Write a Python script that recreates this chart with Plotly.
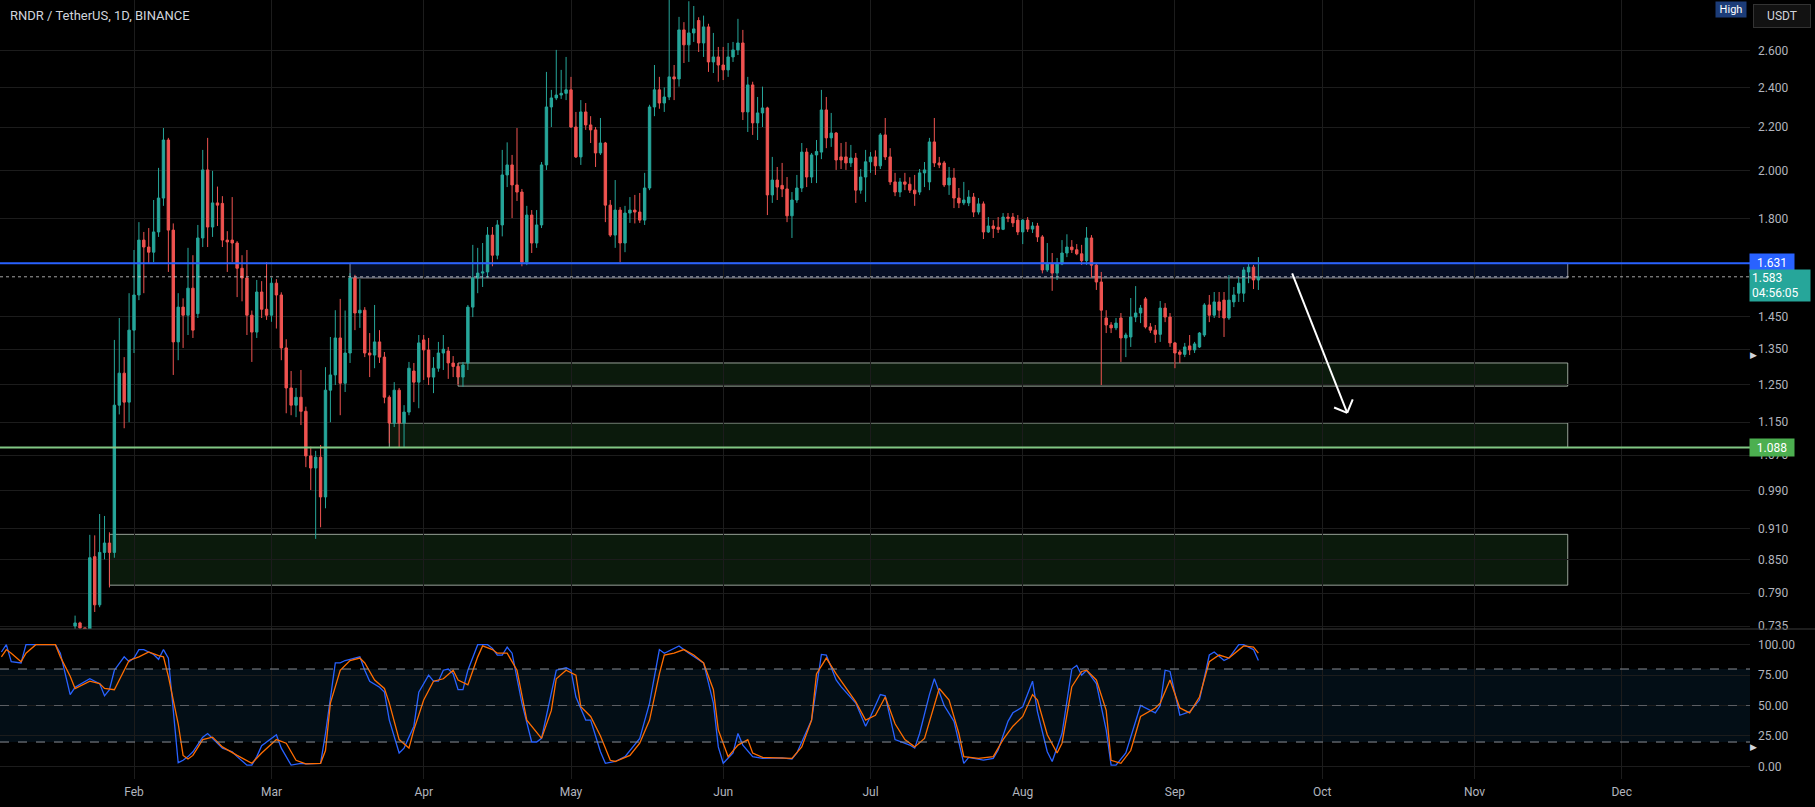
import math
import pandas as pd
import plotly.graph_objects as go

W, H = 1815, 807

# ---------------- data ----------------
first_candle = "2023-01-20"
opens = [
    0.735, 0.740, 0.732, 0.715, 0.856, 0.770, 0.864, 0.882, 0.864, 1.194,
    1.281, 1.202, 1.408, 1.521, 1.716, 1.690, 1.671, 1.747, 1.882, 2.138,
    1.754, 1.372, 1.481, 1.455, 1.544, 1.460, 1.724, 2.002, 1.766, 1.862,
    1.860, 1.716, 1.716, 1.705, 1.613, 1.579, 1.455, 1.402, 1.531, 1.474,
    1.455, 1.561, 1.521, 1.354, 1.240, 1.194, 1.215, 1.178, 1.068, 1.040,
    1.065, 0.976, 1.234, 1.276, 1.384, 1.253, 1.339, 1.579, 1.462, 1.471,
    1.339, 1.333, 1.372, 1.327, 1.215, 1.148, 1.234, 1.148, 1.176, 1.287,
    1.256, 1.378, 1.348, 1.270, 1.295, 1.339, 1.345, 1.310, 1.300, 1.270,
    1.310, 1.481, 1.579, 1.596, 1.600, 1.735, 1.660, 1.774, 1.980, 2.024,
    1.937, 1.907, 1.635, 1.813, 1.705, 1.774, 2.024, 2.299, 2.345, 2.360,
    2.369, 2.387, 2.200, 2.060, 2.274, 2.210, 2.186, 2.078, 2.124, 1.853,
    1.735, 1.833, 1.705, 1.821, 1.833, 1.825, 1.793, 1.924, 2.299, 2.387,
    2.319, 2.350, 2.456, 2.445, 2.723, 2.635, 2.705, 2.780, 2.646, 2.741,
    2.538, 2.566, 2.521, 2.494, 2.566, 2.606, 2.646, 2.274, 2.413, 2.220,
    2.269, 2.294, 1.895, 1.958, 1.935, 1.920, 1.810, 1.874, 1.924, 2.082,
    1.971, 2.069, 2.082, 2.284, 2.148, 2.171, 2.060, 2.060, 2.033, 2.055,
    1.915, 1.971, 2.038, 2.060, 2.020, 2.162, 2.060, 1.950, 1.907, 1.950,
    1.940, 1.915, 1.907, 1.989, 1.950, 2.129, 2.033, 2.033, 1.937, 1.967,
    1.882, 1.862, 1.862, 1.886, 1.825, 1.858, 1.747, 1.770, 1.765, 1.757,
    1.805, 1.805, 1.793, 1.747, 1.793, 1.758, 1.770, 1.728, 1.607, 1.628,
    1.596, 1.628, 1.668, 1.690, 1.680, 1.665, 1.640, 1.724, 1.624, 1.565,
    1.446, 1.424, 1.415, 1.446, 1.384, 1.387, 1.449, 1.462, 1.508, 1.418,
    1.408, 1.395, 1.478, 1.449, 1.369, 1.342, 1.335, 1.360, 1.348, 1.357,
    1.393, 1.488, 1.455, 1.498, 1.504, 1.446, 1.498, 1.527, 1.527, 1.600,
    1.617, 1.572,
]
highs = [
    0.752, 0.742, 0.732, 0.898, 0.897, 0.940, 0.936, 0.903, 1.378, 1.446,
    1.327, 1.527, 1.679, 1.785, 1.747, 1.762, 1.874, 2.011, 2.195, 2.148,
    1.780, 1.527, 1.510, 1.687, 1.660, 1.774, 2.092, 2.148, 1.998, 1.930,
    1.890, 1.750, 1.886, 1.712, 1.660, 1.679, 1.470, 1.572, 1.568, 1.635,
    1.580, 1.575, 1.530, 1.380, 1.287, 1.240, 1.290, 1.190, 1.090, 1.080,
    1.094, 1.298, 1.387, 1.471, 1.508, 1.470, 1.596, 1.590, 1.575, 1.481,
    1.399, 1.488, 1.408, 1.342, 1.220, 1.256, 1.240, 1.194, 1.313, 1.310,
    1.393, 1.393, 1.384, 1.327, 1.372, 1.393, 1.357, 1.330, 1.310, 1.313,
    1.488, 1.698, 1.687, 1.705, 1.766, 1.766, 1.793, 2.092, 2.127, 2.069,
    2.195, 1.920, 1.850, 1.833, 1.833, 2.037, 2.483, 2.387, 2.606, 2.494,
    2.566, 2.456, 2.274, 2.334, 2.319, 2.253, 2.200, 2.244, 2.129, 1.874,
    1.958, 1.845, 1.850, 1.886, 1.895, 1.903, 1.989, 2.310, 2.521, 2.456,
    2.400, 2.950, 2.521, 2.802, 2.770, 2.900, 2.870, 2.800, 2.810, 2.760,
    2.705, 2.623, 2.623, 2.646, 2.652, 2.790, 2.723, 2.456, 2.430, 2.350,
    2.404, 2.300, 2.060, 2.015, 2.033, 1.971, 1.907, 1.980, 2.124, 2.100,
    2.078, 2.138, 2.387, 2.350, 2.269, 2.176, 2.124, 2.129, 2.115, 2.078,
    2.006, 2.092, 2.082, 2.090, 2.171, 2.244, 2.100, 1.989, 1.967, 1.989,
    1.970, 1.980, 2.006, 2.037, 2.148, 2.244, 2.060, 2.042, 2.015, 2.010,
    1.924, 1.950, 1.915, 1.903, 1.882, 1.868, 1.805, 1.793, 1.805, 1.821,
    1.821, 1.821, 1.813, 1.797, 1.805, 1.785, 1.782, 1.735, 1.705, 1.668,
    1.650, 1.716, 1.738, 1.716, 1.701, 1.698, 1.766, 1.735, 1.631, 1.600,
    1.471, 1.433, 1.446, 1.462, 1.400, 1.511, 1.551, 1.488, 1.514, 1.430,
    1.424, 1.501, 1.494, 1.462, 1.372, 1.348, 1.369, 1.393, 1.372, 1.402,
    1.494, 1.521, 1.531, 1.531, 1.531, 1.589, 1.548, 1.582, 1.617, 1.631,
    1.625, 1.653,
]
lows = [
    0.725, 0.720, 0.700, 0.705, 0.758, 0.766, 0.851, 0.800, 0.854, 1.170,
    1.135, 1.150, 1.339, 1.504, 1.527, 1.631, 1.635, 1.728, 1.850, 1.600,
    1.276, 1.318, 1.354, 1.393, 1.384, 1.446, 1.690, 1.690, 1.728, 1.770,
    1.690, 1.600, 1.635, 1.514, 1.500, 1.393, 1.313, 1.384, 1.446, 1.440,
    1.434, 1.413, 1.318, 1.173, 1.168, 1.163, 1.143, 1.042, 0.991, 0.890,
    0.913, 0.952, 1.150, 1.248, 1.168, 1.229, 1.310, 1.408, 1.415, 1.327,
    1.270, 1.295, 1.310, 1.199, 1.098, 1.138, 1.089, 1.089, 1.168, 1.202,
    1.186, 1.262, 1.248, 1.226, 1.285, 1.290, 1.265, 1.270, 1.248, 1.243,
    1.290, 1.449, 1.527, 1.548, 1.579, 1.620, 1.645, 1.730, 1.928, 1.801,
    1.870, 1.620, 1.624, 1.668, 1.687, 1.762, 2.002, 2.200, 2.334, 2.340,
    2.334, 2.195, 2.055, 2.024, 2.186, 2.124, 2.015, 2.069, 1.785, 1.728,
    1.687, 1.635, 1.671, 1.782, 1.780, 1.782, 1.774, 1.915, 2.253, 2.290,
    2.274, 2.334, 2.334, 2.404, 2.532, 2.538, 2.652, 2.594, 2.566, 2.483,
    2.477, 2.430, 2.439, 2.456, 2.538, 2.577, 2.234, 2.176, 2.162, 2.138,
    2.200, 1.813, 1.862, 1.874, 1.886, 1.785, 1.724, 1.862, 1.907, 1.928,
    1.945, 1.945, 2.050, 2.100, 2.106, 2.002, 2.006, 2.002, 2.015, 1.862,
    1.900, 1.866, 1.989, 1.980, 2.006, 2.046, 1.937, 1.890, 1.886, 1.915,
    1.903, 1.850, 1.895, 1.928, 1.915, 2.015, 2.010, 1.928, 1.895, 1.841,
    1.841, 1.853, 1.849, 1.805, 1.815, 1.720, 1.743, 1.724, 1.743, 1.754,
    1.785, 1.766, 1.735, 1.701, 1.747, 1.743, 1.709, 1.595, 1.600, 1.535,
    1.572, 1.624, 1.653, 1.668, 1.660, 1.625, 1.625, 1.580, 1.538, 1.248,
    1.399, 1.399, 1.408, 1.313, 1.327, 1.357, 1.433, 1.430, 1.413, 1.399,
    1.369, 1.372, 1.433, 1.357, 1.295, 1.310, 1.327, 1.333, 1.339, 1.354,
    1.387, 1.433, 1.446, 1.446, 1.387, 1.440, 1.481, 1.498, 1.498, 1.561,
    1.541, 1.538,
]
closes = [
    0.740, 0.732, 0.715, 0.854, 0.770, 0.864, 0.882, 0.864, 1.194, 1.281,
    1.202, 1.408, 1.521, 1.716, 1.690, 1.671, 1.747, 1.882, 2.138, 1.754,
    1.372, 1.481, 1.455, 1.544, 1.408, 1.724, 2.002, 1.766, 1.862, 1.853,
    1.716, 1.709, 1.705, 1.613, 1.579, 1.455, 1.402, 1.531, 1.474, 1.455,
    1.561, 1.521, 1.354, 1.240, 1.194, 1.215, 1.178, 1.068, 1.040, 1.065,
    0.976, 1.234, 1.276, 1.384, 1.253, 1.339, 1.579, 1.462, 1.471, 1.339,
    1.333, 1.372, 1.327, 1.215, 1.148, 1.234, 1.148, 1.176, 1.295, 1.256,
    1.369, 1.348, 1.270, 1.295, 1.339, 1.350, 1.310, 1.300, 1.270, 1.304,
    1.481, 1.579, 1.596, 1.600, 1.735, 1.660, 1.774, 1.980, 2.024, 1.937,
    1.907, 1.635, 1.813, 1.705, 1.774, 2.024, 2.299, 2.345, 2.360, 2.369,
    2.387, 2.200, 2.060, 2.274, 2.210, 2.186, 2.078, 2.124, 1.853, 1.735,
    1.833, 1.705, 1.821, 1.833, 1.825, 1.793, 1.924, 2.299, 2.387, 2.319,
    2.350, 2.456, 2.445, 2.723, 2.635, 2.705, 2.729, 2.646, 2.741, 2.538,
    2.566, 2.521, 2.494, 2.566, 2.606, 2.646, 2.274, 2.413, 2.220, 2.269,
    2.294, 1.895, 1.958, 1.928, 1.920, 1.810, 1.874, 1.924, 2.082, 1.971,
    2.069, 2.085, 2.284, 2.148, 2.171, 2.046, 2.046, 2.033, 2.055, 1.915,
    1.971, 2.038, 2.060, 2.020, 2.162, 2.060, 1.950, 1.907, 1.950, 1.940,
    1.915, 1.900, 1.989, 2.002, 2.129, 2.033, 2.024, 1.937, 1.967, 1.882,
    1.862, 1.874, 1.886, 1.825, 1.858, 1.747, 1.770, 1.760, 1.757, 1.805,
    1.800, 1.782, 1.747, 1.793, 1.758, 1.770, 1.728, 1.607, 1.628, 1.596,
    1.628, 1.668, 1.690, 1.680, 1.665, 1.640, 1.724, 1.624, 1.565, 1.471,
    1.424, 1.415, 1.430, 1.384, 1.393, 1.449, 1.462, 1.478, 1.418, 1.408,
    1.395, 1.478, 1.449, 1.369, 1.339, 1.335, 1.357, 1.348, 1.366, 1.399,
    1.488, 1.455, 1.498, 1.471, 1.446, 1.504, 1.521, 1.561, 1.607, 1.617,
    1.572, 1.583,
]
assert len(opens) == len(highs) == len(lows) == len(closes), (len(opens), len(highs), len(lows), len(closes))

# Stoch RSI readings: (days after 2023-02-01, value)
stoch_ref = "2023-02-01"
stoch_k = [
    (-27, 94), (-26, 100), (-25, 86), (-23, 85), (-22, 100), (-16, 100), (-15, 93), (-13, 59),
    (-12, 65), (-9, 72), (-7, 68), (-6, 58), (-5, 63), (-4, 79), (-2, 90), (-1, 86), (0, 89),
    (1, 96), (2, 96), (4, 92), (5, 88), (6, 96), (7, 89), (9, 3), (10, 5), (11, 8), (12, 12),
    (14, 24), (15, 27), (16, 23), (18, 15), (20, 12), (21, 8), (23, 1), (24, 1), (25, 8),
    (26, 17), (29, 26), (30, 15), (32, 1), (34, 2.5), (35, 2), (37, 2), (38, 2.5), (39, 27),
    (41, 85), (42, 85), (43, 87), (44, 88), (46, 90), (47, 79), (48, 70), (50, 65), (51, 61),
    (52, 38), (54, 11), (55, 15), (57, 33), (58, 61), (60, 75), (61, 70), (62, 70), (63, 79),
    (64, 80), (65, 76), (66, 63), (67, 63), (68, 79), (70, 100), (72, 100), (73, 97),
    (74, 91.5), (75, 91.5), (76, 98), (77, 93), (79, 52), (81, 20), (82, 20), (83, 23),
    (85, 61), (86, 79), (88, 81), (89, 79), (90, 57), (92, 38), (93, 38), (95, 12), (96, 2.5),
    (98, 4), (100, 8), (102, 17.5), (103, 23), (105, 52), (107, 96), (108, 93), (111, 99),
    (113, 93), (116, 85), (118, 52), (119, 16), (120, 2.5), (122, 11), (123, 27), (124, 17.5),
    (126, 8), (128, 6.6), (132, 7), (134, 6), (135, 11), (138, 38), (140, 92), (141, 91.5),
    (143, 71), (144, 65.5), (147, 52), (149, 33), (150, 41), (152, 59), (153, 58), (155, 22),
    (158, 17.5), (159, 15), (160, 27), (162, 59), (163, 72), (165, 50), (167, 37), (169, 2.5),
    (170, 7.4), (173, 5.2), (175, 6.6), (176, 13.4), (178, 37), (179, 44), (181, 49), (183, 70),
    (184, 45), (186, 12), (187, 4), (189, 27), (191, 80), (192, 83), (193, 75), (194, 79),
    (196, 68), (198, 30), (199, 1), (200, 1), (202, 11), (205, 50), (208, 44), (209, 50),
    (210, 79), (211, 78), (213, 42), (215, 45), (217, 54.5), (219, 91.5), (220, 94), (222, 87),
    (223, 89), (225, 100), (226, 100), (228, 96), (229, 87),
]
stoch_d = [
    (-27, 90), (-26, 96), (-25, 93), (-23, 86), (-22, 93), (-20, 100), (-16, 100), (-15, 90),
    (-13, 74), (-12, 64), (-9, 70), (-7, 68), (-6, 64), (-4, 63), (-2, 79), (-1, 87), (1, 90),
    (3, 94), (5, 91), (6, 90), (7, 74), (9, 35), (10, 9), (11, 6), (12, 9), (14, 22), (16, 24),
    (18, 16), (21, 9), (24, 2.5), (26, 11), (29, 22), (31, 19), (33, 5), (35, 2), (38, 2.5),
    (39, 13), (40, 52), (42, 79), (44, 87), (46, 89), (47, 85), (49, 71), (51, 64), (52, 52),
    (54, 22), (56, 15), (57, 30), (59, 54.5), (61, 70), (63, 72), (65, 79), (66, 71), (68, 67),
    (70, 90), (71, 99), (73, 96), (74, 93), (76, 93), (78, 79), (80, 38), (83, 23), (85, 46),
    (86, 72), (88, 79), (90, 75), (91, 49), (93, 41), (95, 25), (97, 5), (98, 4), (101, 9),
    (103, 19), (105, 38), (107, 76), (108, 91.5), (110, 93), (112, 96), (114, 91.5), (116, 85),
    (118, 63), (119, 30), (121, 8), (123, 17.5), (125, 22), (126, 11), (128, 7.4), (134, 6.6),
    (136, 16), (138, 38), (139, 76), (141, 89), (143, 76), (145, 64), (147, 53), (149, 38),
    (151, 42), (153, 57), (155, 35), (157, 22), (159, 16), (161, 23), (163, 49), (164, 64),
    (166, 54.5), (168, 27), (169, 8), (172, 6.6), (175, 8), (177, 22), (179, 33), (181, 41),
    (183, 59), (184, 54.5), (186, 26), (188, 11), (189, 19), (191, 65.5), (193, 78), (194, 79),
    (196, 71), (198, 46), (199, 5), (201, 2.5), (203, 13), (205, 41), (208, 48), (209, 52),
    (211, 71), (213, 48), (215, 44), (217, 57), (219, 86), (221, 91.5), (223, 89), (226, 99),
    (228, 98), (229, 93),
]

month_starts = ["2023-02-01", "2023-03-01", "2023-04-01", "2023-05-01", "2023-06-01", "2023-07-01",
                "2023-08-01", "2023-09-01", "2023-10-01", "2023-11-01", "2023-12-01"]
month_labels = ["Feb", "Mar", "Apr", "May", "Jun", "Jul", "Aug", "Sep", "Oct", "Nov", "Dec"]

price_ticks = [0.735, 0.79, 0.85, 0.91, 0.99, 1.07, 1.15, 1.25, 1.35, 1.45, 1.8, 2.0, 2.2, 2.4, 2.6]
price_tick_text = ["0.735", "0.790", "0.850", "0.910", "0.990", "1.070", "1.150", "1.250", "1.350",
                   "1.450", "1.800", "2.000", "2.200", "2.400", "2.600"]
stoch_ticks = [0, 25, 50, 75, 100]
stoch_tick_text = ["0.00", "25.00", "50.00", "75.00", "100.00"]

resistance_level = 1.631
support_level = 1.088
last_price = 1.583
countdown = "04:56:05"

zone_start = ["2023-03-17", "2023-04-08", "2023-03-25", "2023-01-27"]
zone_end = "2023-11-20"
zone_low = [1.579, 1.245, 1.088, 0.804]
zone_high = [1.631, 1.310, 1.148, 0.899]

arrow_x = ["2023-09-24 21:00", "2023-10-06 02:00"]
arrow_y = [1.595, 1.174]
arrow_head_x = ["2023-10-03 10:00", "2023-10-07 05:00"]
arrow_head_y = [1.188, 1.209]

title_text = "RNDR / TetherUS, 1D, BINANCE"

# ---------------- figure ----------------
dates = pd.date_range(first_candle, periods=len(closes), freq="D")
ref = pd.Timestamp(stoch_ref)
k_x = [ref + pd.Timedelta(days=d) for d, _ in stoch_k]
k_y = [v for _, v in stoch_k]
d_x = [ref + pd.Timedelta(days=d) for d, _ in stoch_d]
d_y = [v for _, v in stoch_d]

UP, DOWN = "#26a69a", "#ef5350"
GRID = "#1c1c1c"
TXT = "#b2b5be"
FONT = "Roboto, Liberation Sans, sans-serif"

plot_right = 1750 / W
main_bottom = (H - 629) / H
stoch_bottom = (H - 779) / H

x_range = ["2023-01-04 17:01", "2023-12-27 02:53"]

fig = go.Figure()
fig.add_trace(go.Candlestick(
    x=dates, open=opens, high=highs, low=lows, close=closes,
    increasing=dict(line=dict(color=UP, width=1), fillcolor=UP),
    decreasing=dict(line=dict(color=DOWN, width=1), fillcolor=DOWN),
    whiskerwidth=0, showlegend=False, xaxis="x", yaxis="y", hoverinfo="skip",
))
fig.add_trace(go.Scatter(x=k_x, y=k_y, mode="lines", line=dict(color="#2962ff", width=1.3),
                         xaxis="x2", yaxis="y2", showlegend=False, hoverinfo="skip"))
fig.add_trace(go.Scatter(x=d_x, y=d_y, mode="lines", line=dict(color="#ff6d00", width=1.3),
                         xaxis="x2", yaxis="y2", showlegend=False, hoverinfo="skip"))

shapes = []
# stoch band
shapes.append(dict(type="rect", xref="paper", yref="y2", x0=0, x1=plot_right, y0=20, y1=80,
                   fillcolor="rgba(33,150,243,0.09)", line=dict(width=0), layer="below"))
for lvl, col in [(80, "#8a8d96"), (50, "rgba(138,141,150,0.6)"), (20, "#8a8d96")]:
    shapes.append(dict(type="line", xref="paper", yref="y2", x0=0, x1=plot_right, y0=lvl, y1=lvl,
                       line=dict(color=col, width=1, dash="dash")))
# panel separator
shapes.append(dict(type="line", xref="paper", yref="paper", x0=0, x1=1, y0=main_bottom, y1=main_bottom,
                   line=dict(color="#3a3a3a", width=1)))
# zones
for i, (x0, lo, hi) in enumerate(zip(zone_start, zone_low, zone_high)):
    if i == 0:
        fill, edge = "rgba(41,98,255,0.14)", "rgba(190,190,200,0.75)"
    else:
        fill, edge = "rgba(76,175,80,0.15)", "rgba(200,210,200,0.75)"
    shapes.append(dict(type="rect", xref="x", yref="y", x0=x0, x1=zone_end, y0=lo, y1=hi,
                       fillcolor=fill, line=dict(color=edge, width=1), layer="below"))
# horizontal levels
shapes.append(dict(type="line", xref="paper", yref="y", x0=0, x1=plot_right, y0=last_price, y1=last_price,
                   line=dict(color="rgba(220,220,220,0.75)", width=1, dash="dot")))
shapes.append(dict(type="line", xref="paper", yref="y", x0=0, x1=plot_right, y0=resistance_level,
                   y1=resistance_level, line=dict(color="#2962ff", width=2)))
shapes.append(dict(type="line", xref="paper", yref="y", x0=0, x1=plot_right, y0=support_level,
                   y1=support_level, line=dict(color="#81c784", width=2)))
# arrow
shapes.append(dict(type="line", xref="x", yref="y", x0=arrow_x[0], x1=arrow_x[1], y0=arrow_y[0],
                   y1=arrow_y[1], line=dict(color="white", width=2)))
for hx, hy in zip(arrow_head_x, arrow_head_y):
    shapes.append(dict(type="line", xref="x", yref="y", x0=hx, x1=arrow_x[1], y0=hy, y1=arrow_y[1],
                       line=dict(color="white", width=2)))

ann = []
ann.append(dict(xref="paper", yref="paper", x=8 / W, y=1 - 16 / H, xanchor="left", yanchor="middle",
                text=title_text, showarrow=False, font=dict(size=13, color="#d1d4dc", family=FONT)))
ann.append(dict(xref="paper", yref="y", x=1749 / W, y=math.log10(resistance_level), xanchor="left",
                yanchor="middle", text=f"{resistance_level:.3f}", showarrow=False, bgcolor="#2962ff",
                width=40, height=14, borderpad=2, font=dict(size=12, color="white", family=FONT)))
ann.append(dict(xref="paper", yref="y", x=1749 / W, y=math.log10(support_level), xanchor="left",
                yanchor="middle", text=f"{support_level:.3f}", showarrow=False, bgcolor="#4caf50",
                width=40, height=13, borderpad=2, font=dict(size=12, color="white", family=FONT)))
ann.append(dict(xref="paper", yref="y", x=1749 / W, y=math.log10(last_price), xanchor="left",
                yanchor="top", yshift=8, text=f"{last_price:.3f}<br>{countdown}", align="left",
                showarrow=False, bgcolor="#26a69a", width=56, height=27, borderpad=2,
                font=dict(size=12, color="white", family=FONT)))
ann.append(dict(xref="paper", yref="paper", x=1731 / W, y=1 - 9.5 / H, xanchor="center", yanchor="middle",
                text="High", showarrow=False, bgcolor="#1c3c78", width=28, height=13, borderpad=1,
                font=dict(size=11, color="white", family=FONT)))
ann.append(dict(xref="paper", yref="paper", x=1782 / W, y=1 - 16 / H, xanchor="center", yanchor="middle",
                text="USDT", showarrow=False, bgcolor="#121212", bordercolor="#333333", borderwidth=1,
                width=52, height=18, borderpad=2, font=dict(size=12, color="#d1d4dc", family=FONT)))
for py in (355, 747):
    ann.append(dict(xref="paper", yref="paper", x=1753 / W, y=1 - py / H, xanchor="center",
                    yanchor="middle", text="▶", showarrow=False,
                    font=dict(size=9, color="#d1d4dc", family="DejaVu Sans")))

axis_common = dict(showline=False, zeroline=False, gridcolor=GRID, gridwidth=1, automargin=False,
                   tickfont=dict(size=12, color=TXT, family=FONT))

fig.update_layout(
    template="none",
    width=W, height=H, margin=dict(l=0, r=0, t=0, b=0, pad=0, autoexpand=False),
    paper_bgcolor="#000000", plot_bgcolor="#000000",
    font=dict(family=FONT, color=TXT),
    showlegend=False, shapes=shapes, annotations=ann, dragmode=False,
    xaxis=dict(domain=[0, plot_right], range=x_range, type="date", anchor="y",
               tickvals=month_starts, ticktext=month_labels, showticklabels=False, ticks="",
               showgrid=True, rangeslider=dict(visible=False), **axis_common),
    xaxis2=dict(domain=[0, plot_right], range=x_range, type="date", anchor="y2", matches="x",
                tickvals=month_starts, ticktext=month_labels, showticklabels=True, ticks="",
                ticklabelstandoff=4, showgrid=True, rangeslider=dict(visible=False), **axis_common),
    yaxis=dict(domain=[main_bottom, 1], type="log",
               range=[math.log10(0.7302), math.log10(2.908)], side="right", anchor="x",
               tickvals=price_ticks, ticktext=price_tick_text, ticks="", ticklabelstandoff=7,
               showgrid=True, **axis_common),
    yaxis2=dict(domain=[stoch_bottom, main_bottom], range=[-10.4, 112.9], side="right", anchor="x2",
                tickvals=stoch_ticks, ticktext=stoch_tick_text, ticks="", ticklabelstandoff=7,
                showgrid=True, **axis_common),
)

fig.write_html("out.html", config={"displayModeBar": False})
